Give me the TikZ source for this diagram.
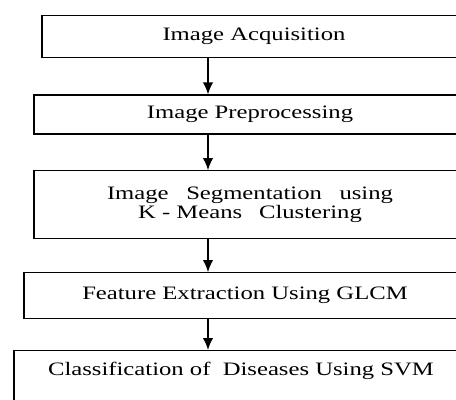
\documentclass[tikz,border=0pt]{standalone}
\usepackage{fontspec}
\setmainfont{Liberation Serif}[FakeStretch=1.3]
\usetikzlibrary{arrows.meta}

\begin{document}
\begin{tikzpicture}[
    stage/.style={draw, line width=0.8pt, inner sep=0pt, align=center,
        font=\fontsize{13.5}{13.7}\selectfont},
    flow/.style={-{Latex[length=3mm, width=2.6mm]}, line width=1.1pt}]
    \clip (0,0) rectangle (11.4,-9.975);
    \draw
    (6.35,-0.91)node(acq)[stage, minimum width=10.6cm, minimum height=1.04cm]{Image Acquisition}
    (6.25,-2.8625)node(prep)[stage, minimum width=10.8cm, minimum height=0.975cm]{Image Preprocessing}
    (6.25,-5.1125)node(seg)[stage, minimum width=10.8cm, minimum height=1.69cm]{Image\hspace{0.44cm}Segmentation\hspace{0.44cm}using\\K - Means\hspace{0.42cm}Clustering}
    (6.125,-7.3875)node(feat)[stage, minimum width=11.05cm, minimum height=1.14cm]{Feature Extraction Using GLCM}
    (6.025,-8.75)node(svm)[stage, anchor=north, minimum width=11.35cm, text height=0.625cm, text depth=1.2cm]{Classification of\ \ Diseases Using SVM};
    %
    \coordinate (axis) at (5.2,0);
    \draw [flow](acq.south -| axis)--(prep.north -| axis);
    \draw [flow](prep.south -| axis)--(seg.north -| axis);
    \draw [flow](seg.south -| axis)--(feat.north -| axis);
    \draw [flow](feat.south -| axis)--(svm.north -| axis);
\end{tikzpicture}
\end{document}
